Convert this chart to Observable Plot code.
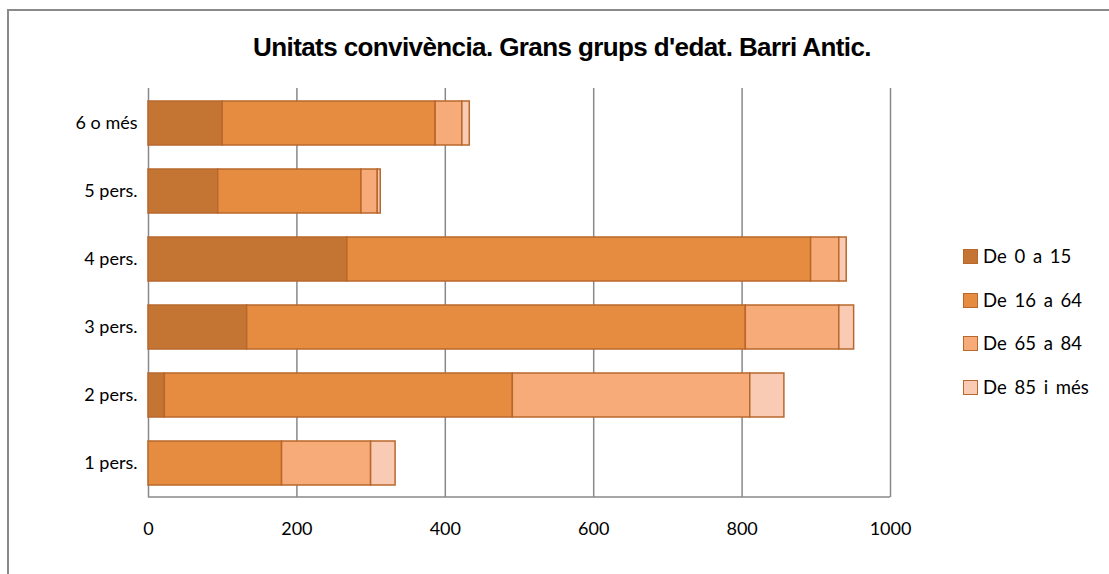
<!DOCTYPE html>
<html><head><meta charset="utf-8">
<script src="https://cdn.jsdelivr.net/npm/d3@7"></script>
<script src="https://cdn.jsdelivr.net/npm/@observablehq/plot@0.6"></script>
<style>
body{margin:0;background:#fff;}
#wrap{position:relative;width:1109px;height:574px;overflow:hidden;font-family:Lato,"Open Sans",sans-serif;color:#000;}
#frame{position:absolute;left:7px;top:9px;width:1300px;height:800px;border:2px solid #8a8a8a;box-sizing:border-box;}
#title{position:absolute;left:8px;top:30px;width:1108px;text-align:center;font-family:"Liberation Sans",Arial,sans-serif;font-weight:bold;font-size:26px;letter-spacing:-0.6px;line-height:34px;}
#chart{position:absolute;left:0;top:70px;}
#legend{position:absolute;left:963px;top:245px;}
.li{position:absolute;left:0;white-space:nowrap;font-size:18.5px;line-height:22px;word-spacing:3px;}
.sw{position:absolute;left:0;top:4px;width:15px;height:15px;box-sizing:border-box;border:1.5px solid #b8682c;}
.lt{position:absolute;left:20px;top:0;}
</style></head>
<body><div id="wrap"><div id="frame"></div><div id="title">Unitats convivència. Grans grups d'edat. Barri Antic.</div><div id="chart"></div><div id="legend"></div></div>
<script>
const categories = ["6 o més","5 pers.","4 pers.","3 pers.","2 pers.","1 pers."];
const groups = ["De 0 a 15","De 16 a 64","De 65 a 84","De 85 i més"];
const v0_15  = [100, 94, 268, 133, 22, 0];
const v16_64 = [287, 193, 625, 672, 469, 180];
const v65_84 = [36, 22, 38, 126, 320, 120];
const v85    = [10, 4, 10, 20, 46, 33];
const xTicks = [0, 200, 400, 600, 800, 1000];
const colors = ["#c47534", "#e68c40", "#f7ab79", "#f9cab4"];
const strokeColor = "#b8682c";

const series = [v0_15, v16_64, v65_84, v85];
const data = [];
categories.forEach((c, i) => groups.forEach((g, j) => data.push({cat: c, group: g, value: series[j][i]})));

const bottomLine = (index, scales, values, dims) => {
  const g = d3.create("svg:g");
  g.append("line")
    .attr("x1", dims.marginLeft).attr("x2", dims.width - dims.marginRight)
    .attr("y1", dims.height - dims.marginBottom).attr("y2", dims.height - dims.marginBottom)
    .attr("stroke", "#898989").attr("stroke-width", 1.5);
  return g.node();
};

const svgH = 504;
const chart = Plot.plot({
  width: 1109,
  height: svgH,
  marginLeft: 148,
  marginRight: 219,
  marginTop: 18,
  marginBottom: svgH - 427,
  style: {fontFamily: "Lato, 'Open Sans', sans-serif", fontSize: "18px", color: "#000", background: "transparent"},
  x: {domain: [0, 1000]},
  y: {domain: categories, paddingInner: 0.355, paddingOuter: 0.1775},
  color: {domain: groups, range: colors},
  marks: [
    Plot.ruleX(xTicks, {stroke: "#898989", strokeWidth: 1.5, strokeOpacity: 1}),
    bottomLine,
    Plot.barX(data, Plot.stackX({x: "value", y: "cat", fill: "group", stroke: strokeColor, strokeWidth: 1.5, inset: 0})),
    Plot.axisX({ticks: xTicks, tickFormat: d => String(d), tickSize: 0, tickPadding: 25, label: null, fontSize: 18}),
    Plot.axisY({tickSize: 0, tickPadding: 11, label: null, fontSize: 18})
  ]
});
document.getElementById("chart").appendChild(chart);

const leg = document.getElementById("legend");
groups.forEach((g, i) => {
  const d = document.createElement("div");
  d.className = "li";
  d.style.top = (i * 43.5) + "px";
  d.innerHTML = `<div class="sw" style="background:${colors[i]}"></div><span class="lt">${g}</span>`;
  leg.appendChild(d);
});
</script></body></html>
